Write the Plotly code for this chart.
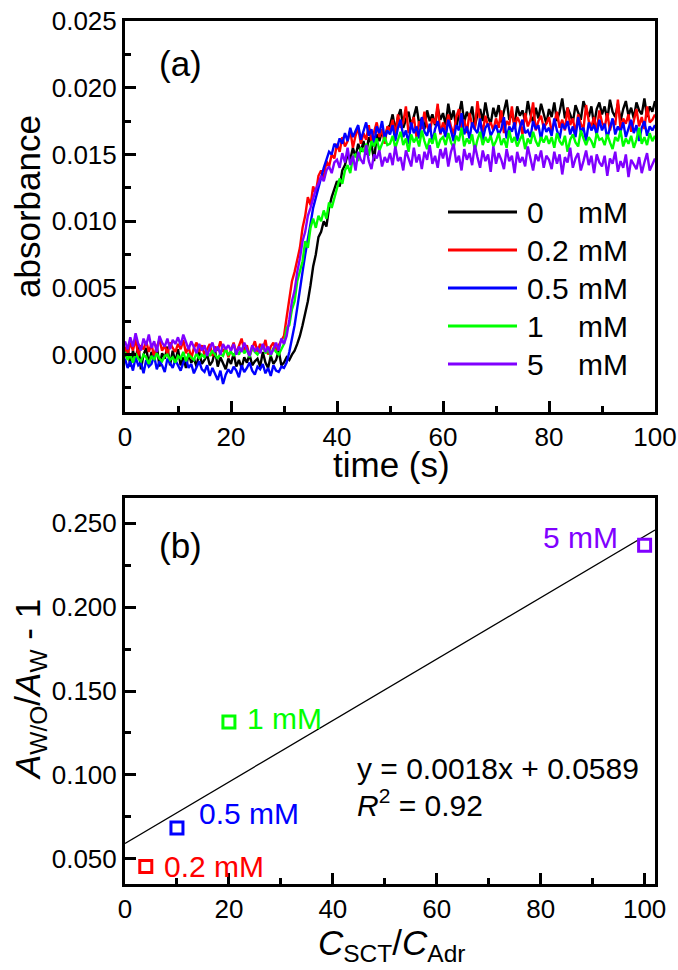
import numpy as np
import plotly.graph_objects as go

# ---------------- Panel (a): absorbance vs time (values in units of 1e-4) ----------------
time_step_s = 0.5
series_names = ["0", "0.2", "0.5", "1", "5"]
series_colors = ["#000000", "#FF0000", "#0000FF", "#00FF00", "#8000FF"]

abs_0mM = [
    -2, 6, -9, 3, -5, 8, -11, 0, 5, -7, 2, -4, 7, -9, 1, -3, 6, -8, 3, -6,
    4, -8, -2, -10, 1, -6, -3, -9, 2, -7, -4, 0, -8, -5, 3, -9, -2, -6, -11, -3,
    -7, 1, -9, -4, -10, -2, -6, 0, -8, -5, -3, -9, 2, -6, -10, -1, -7, -4, 3, -8,
    -6, -2, -4, 0, 3, 8, 14, 22, 30, 40, 52, 66, 75, 88, 92, 100, 96, 110, 118, 124,
    130, 126, 138, 142, 150, 146, 155, 148, 158, 152, 160, 150, 163, 158, 145, 165, 160, 168, 162, 170,
    172, 180, 168, 178, 184, 170, 176, 182, 171, 179, 186, 173, 177, 169, 183, 175, 180, 172, 185, 176,
    181, 172, 188, 176, 183, 170, 179, 190, 174, 182, 177, 186, 171, 180, 184, 175, 189, 178, 173, 185,
    178, 187, 174, 182, 191, 176, 181, 172, 186, 179, 183, 175, 190, 180, 174, 185, 177, 188, 181, 173,
    184, 178, 189, 175, 182, 192, 177, 185, 180, 174, 187, 181, 176, 190, 183, 178, 186, 172, 184, 189,
    180, 186, 176, 191, 182, 178, 188, 175, 184, 190, 179, 185, 177, 189, 183, 180, 192, 178, 186, 182,
    190,
]
abs_02mM = [
    6, 0, 9, 3, 12, -1, 7, 4, 10, 2, 8, -2, 6, 11, 3, 7, 0, 9, 5, 2,
    8, 4, 11, 1, 6, -3, 5, 9, 2, 7, 0, 4, 8, -1, 6, 3, 10, 2, 5, -2,
    4, 9, 1, 6, 12, 3, 7, -1, 5, 10, 2, 8, 4, 11, 0, 6, 9, 3, 7, 10,
    14, 28, 42, 55, 62, 72, 80, 95, 104, 118, 112, 126, 121, 134, 138, 132, 145, 141, 150, 147,
    158, 152, 163, 156, 160, 168, 155, 164, 170, 158, 166, 161, 172, 160, 167, 174, 163, 169, 158, 171,
    168, 176, 164, 180, 170, 174, 186, 166, 172, 178, 163, 175, 169, 182, 171, 167, 177, 173, 188, 165,
    174, 168, 180, 171, 165, 178, 184, 170, 176, 166, 181, 172, 169, 190, 175, 167, 179, 171, 174, 168,
    177, 170, 183, 166, 175, 172, 186, 169, 178, 174, 165, 181, 171, 176, 189, 168, 175, 179, 170, 173,
    178, 167, 174, 182, 170, 176, 168, 185, 172, 177, 166, 180, 173, 169, 187, 175, 171, 178, 167, 183,
    174, 170, 181, 168, 176, 172, 191, 169, 177, 173, 180, 167, 175, 184, 171, 178, 169, 186, 174, 176,
    180,
]
abs_05mM = [
    -3, -10, -5, -12, -2, -8, -6, -14, -4, -9, -7, -1, -11, -5, -8, -13, -3, -7, -10, -4,
    -8, -12, -6, -3, -10, -7, -14, -9, -5, -11, -13, -8, -16, -10, -14, -19, -12, -22, -15, -11,
    -14, -9, -12, -17, -8, -13, -10, -6, -12, -15, -9, -11, -7, -14, -10, -16, -8, -12, -13, -9,
    -10, -6, 2, 12, 22, 35, 50, 62, 75, 88, 98, 110, 118, 126, 134, 140, 146, 152, 150, 158,
    155, 162, 158, 166, 160, 170, 163, 168, 172, 161, 167, 174, 164, 169, 158, 171, 166, 175, 162, 168,
    165, 172, 160, 170, 176, 163, 168, 158, 174, 166, 171, 162, 178, 167, 164, 173, 159, 169, 175, 166,
    170, 163, 176, 167, 160, 172, 168, 181, 165, 171, 162, 174, 169, 166, 177, 161, 170, 173, 164, 168,
    172, 165, 169, 178, 162, 171, 167, 174, 160, 170, 176, 166, 168, 163, 175, 169, 172, 161, 173, 167,
    170, 164, 177, 168, 162, 173, 169, 175, 165, 171, 163, 178, 167, 170, 160, 174, 168, 172, 165, 176,
    168, 173, 162, 170, 177, 165, 171, 167, 174, 163, 169, 176, 166, 172, 160, 170, 175, 164, 171, 168,
    172,
]
abs_1mM = [
    2, -4, 0, -6, 1, -3, -5, 0, -2, -7, -1, -4, 1, -3, -5, -1, 0, -4, -2, -6,
    -1, -3, 2, -5, 0, -2, -4, 1, -3, 0, -2, 2, -1, 3, 0, -3, 1, -1, 4, 0,
    2, -1, 3, 0, 5, 1, 4, -2, 6, 2, 0, 3, 7, 1, 4, -1, 5, 2, 0, 4,
    8, 20, 22, 34, 40, 55, 62, 70, 85, 80, 95, 102, 95, 104, 100, 108, 102, 114, 110, 118,
    124, 132, 128, 138, 142, 136, 148, 150, 145, 155, 152, 158, 149, 160, 156, 162, 153, 158, 163, 157,
    158, 164, 155, 161, 167, 157, 162, 152, 165, 159, 163, 156, 168, 160, 154, 162, 158, 166, 155, 161,
    163, 157, 166, 159, 155, 164, 160, 170, 156, 162, 158, 165, 153, 161, 167, 157, 163, 159, 164, 156,
    160, 166, 157, 162, 155, 168, 159, 163, 156, 161, 165, 154, 162, 158, 167, 160, 156, 163, 159, 164,
    158, 163, 155, 166, 160, 157, 164, 152, 161, 165, 159, 156, 168, 162, 157, 163, 160, 155, 166, 161,
    162, 157, 165, 159, 154, 163, 160, 168, 156, 162, 158, 164, 155, 161, 170, 158, 163, 157, 166, 160,
    164,
]
abs_5mM = [
    10, 4, 13, 6, 16, 8, 3, 12, 7, 15, 5, 10, 2, 14, 9, 6, 12, 4, 11, 8,
    13, 7, 15, 9, 4, 10, 6, 1, 8, 3, 7, -1, 5, 9, 2, 6, 0, 8, 4, 7,
    3, 8, 0, 6, 2, 9, 4, -1, 7, 3, 5, 1, 8, 2, 6, 0, 4, 9, 3, 12,
    8, 14, 26, 40, 48, 62, 72, 85, 92, 104, 110, 118, 124, 128, 134, 130, 138, 141, 136, 144,
    146, 140, 151, 144, 155, 142, 149, 138, 152, 146, 143, 157, 145, 139, 150, 147, 153, 141, 148, 144,
    151, 142, 156, 145, 148, 138, 153, 147, 141, 155, 144, 150, 139, 152, 146, 157, 143, 149, 140, 154,
    147, 155, 141, 152, 158, 144, 149, 138, 154, 146, 151, 142, 157, 148, 140, 153, 145, 150, 137, 156,
    143, 151, 146, 139, 154, 145, 149, 136, 152, 144, 148, 141, 156, 147, 138, 150, 145, 153, 140, 149,
    146, 139, 152, 143, 150, 135, 148, 144, 155, 140, 147, 151, 138, 145, 153, 142, 149, 136, 150, 144,
    141, 149, 134, 147, 143, 152, 137, 145, 140, 150, 133, 146, 142, 139, 148, 136, 144, 151, 138, 143,
    147,
]
abs_unit = 1e-4
series_values = [abs_0mM, abs_02mM, abs_05mM, abs_1mM, abs_5mM]
for s in series_values:
    assert len(s) == 201, len(s)
time_s = [i * time_step_s for i in range(201)]

# ---------------- Panel (b): ratio vs concentration ratio ----------------
ratio_labels = ["0.2 mM", "0.5 mM", "1 mM", "5 mM"]
ratio_colors = ["#FF0000", "#0000FF", "#00FF00", "#8000FF"]
c_ratio = [4, 10, 20, 100]
a_ratio = [0.0454, 0.0683, 0.1315, 0.2369]
fit_text = "y = 0.0018x + 0.0589"
r2_text = "<i>R</i><sup>2</sup> = 0.92"
fit_x = [0, 102]

# least-squares line through the plotted points
fit_slope, fit_intercept = np.polyfit(c_ratio, a_ratio, 1)

FONT = "Liberation Sans, Arial, sans-serif"

fig = go.Figure()

for name, color, vals in zip(series_names, series_colors, series_values):
    fig.add_trace(go.Scatter(
        x=time_s, y=[v * abs_unit for v in vals], mode="lines",
        line=dict(color=color, width=2.4), name=name, showlegend=False,
        xaxis="x", yaxis="y",
    ))

fig.add_trace(go.Scatter(
    x=fit_x, y=[fit_slope * x + fit_intercept for x in fit_x], mode="lines",
    line=dict(color="black", width=1.3), showlegend=False, xaxis="x2", yaxis="y2",
))
for lab, col, cx, ay in zip(ratio_labels, ratio_colors, c_ratio, a_ratio):
    fig.add_trace(go.Scatter(
        x=[cx], y=[ay], mode="markers",
        marker=dict(symbol="square-open", size=12, color=col, line=dict(color=col, width=3)),
        showlegend=False, xaxis="x2", yaxis="y2", cliponaxis=False,
    ))

axis_common = dict(
    showline=True, linewidth=3, linecolor="black", mirror=True,
    ticks="inside", ticklen=11, tickwidth=3, tickcolor="black",
    showgrid=False, zeroline=False, automargin=False,
    tickfont=dict(family=FONT, size=26, color="black"),
)

W, H = 678, 970
ml, mr, mt, mb = 125, 23, 21, 86
pw, ph = W - ml - mr, H - mt - mb


def px(xp):
    return (xp - ml) / pw


def py(yp):
    return (H - mb - yp) / ph


fig.update_layout(
    width=W, height=H,
    margin=dict(l=ml, r=mr, t=mt, b=mb, autoexpand=False),
    paper_bgcolor="white", plot_bgcolor="white",
    font=dict(family=FONT, color="black"),
    xaxis=dict(axis_common, domain=[0, 1], range=[0, 100], dtick=20, tick0=0,
               minor=dict(ticks="inside", ticklen=6, tickwidth=3, dtick=10, tickcolor="black"),
               anchor="y"),
    yaxis=dict(axis_common, domain=[py(412), 1], range=[-0.0043, 0.025], dtick=0.005, tick0=0,
               tickformat=".3f",
               minor=dict(ticks="inside", ticklen=6, tickwidth=3, dtick=0.0025, tickcolor="black"),
               anchor="x"),
    xaxis2=dict(axis_common, domain=[0, 1], range=[0, 102], dtick=20, tick0=0,
                minor=dict(ticks="inside", ticklen=6, tickwidth=3, dtick=10, tickcolor="black"),
                anchor="y2"),
    yaxis2=dict(axis_common, domain=[0, py(498)], range=[0.035, 0.265], dtick=0.05, tick0=0,
                tickformat=".3f",
                minor=dict(ticks="inside", ticklen=6, tickwidth=3, dtick=0.025, tickcolor="black"),
                anchor="x2"),
)

annotations = []
shapes = []


def paper_text(text, xp, yp, size, xanchor="left", angle=0, color="black"):
    annotations.append(dict(text=text, x=px(xp), y=py(yp), xref="paper", yref="paper",
                            xanchor=xanchor, yanchor="middle", showarrow=False,
                            textangle=angle, font=dict(family=FONT, size=size, color=color)))


# axis titles
paper_text("time (s)", 391, 464, 35, xanchor="center")
paper_text("absorbance", 27, 207, 35, xanchor="center", angle=-90)
paper_text("<i>C</i><sub>SCT</sub>/<i>C</i><sub>Adr</sub>", 391, 945, 35, xanchor="center")
paper_text("<i>A</i><sub>W/O</sub>/<i>A</i><sub>W</sub> - 1", 30, 690, 35, xanchor="center", angle=-90)

# panel labels
paper_text("(a)", 157, 63, 35)
paper_text("(b)", 157, 545, 35)

# custom legend for panel (a)
row_y = [212, 250, 288, 326, 364]
for name, color, ry in zip(series_names, series_colors, row_y):
    shapes.append(dict(type="line", xref="paper", yref="paper",
                       x0=px(448), x1=px(517), y0=py(ry), y1=py(ry),
                       line=dict(color=color, width=3)))
    paper_text(name, 525, ry, 30)
    paper_text("mM", 576, ry, 30)

# point labels in panel (b)
label_offsets = [(16, 0, "left"), (20, 15, "left"), (16, 4, "left"), (-25, 8, "right")]
for lab, col, cx, ay, (xs, ys, xa) in zip(ratio_labels, ratio_colors, c_ratio, a_ratio, label_offsets):
    annotations.append(dict(text=lab, x=cx, y=ay, xref="x2", yref="y2",
                            xanchor=xa, yanchor="middle", xshift=xs, yshift=ys,
                            showarrow=False, font=dict(family=FONT, size=30, color=col)))

# equation
paper_text(fit_text, 355, 768, 30)
paper_text(r2_text, 355, 803, 30)

fig.update_layout(annotations=annotations, shapes=shapes)

fig.write_html(
    "out.html",
    config={"displayModeBar": False},
    post_script="document.body.style.margin='0px';document.body.style.overflow='hidden';",
)
